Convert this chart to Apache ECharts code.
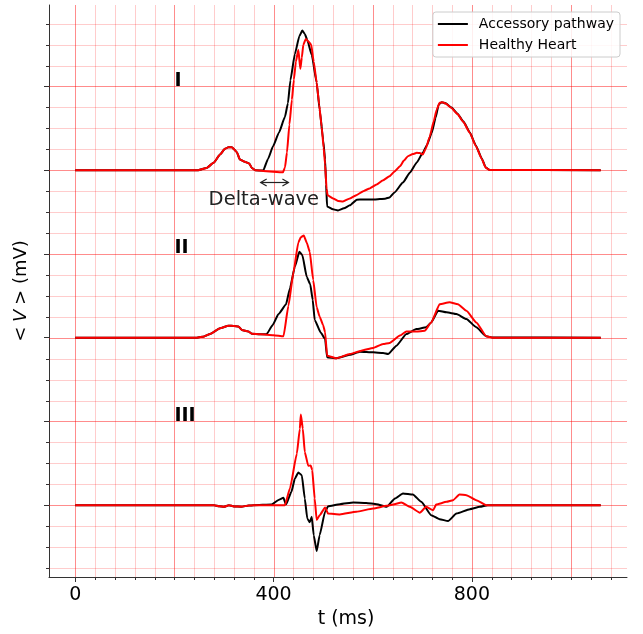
<!DOCTYPE html>
<html>
<head>
<meta charset="utf-8">
<script src="https://cdn.jsdelivr.net/npm/echarts@6/dist/echarts.min.js"></script>
<style>
html, body { margin: 0; padding: 0; background: #fff; }
#chart { width: 643px; height: 634px; }
</style>
</head>
<body>
<div id="chart"></div>
<script>
// Averaged potential per lead, [t (ms), value]; each lead is shifted by its offset.
const leadNames = ['I', 'II', 'III'];
const leadOffsets = [16, 8, 0];

const leadI_accessory = [
  [0,0],[248,0],[265,0.11],[279,0.35],[292,0.75],[302,1.02],[309,1.10],[316,1.10],[326,0.86],[332,0.51],
  [342,0.40],[351,0.32],[356,0.11],[363,0],[379,-0.02],[389,0.55],[399,1.14],[411,1.80],[423,2.55],
  [429,3.20],[434,4.30],[443,5.55],[452,6.40],[458,6.67],[463,6.51],[468,6.22],[477,5.51],[487,4.18],
  [493,2.89],[500,1.46],[504,0.51],[506,-0.68],[508,-1.73],[520,-1.87],[530,-1.92],[542,-1.82],
  [554,-1.68],[568,-1.41],[580,-1.40],[604,-1.40],[625,-1.36],[634,-1.30],[644,-1.06],[661,-0.59],
  [675,-0.12],[689,0.37],[701,0.83],[709,1.18],[719,1.78],[727,2.51],[733,3.13],[739,3.25],[747,3.20],
  [759,2.99],[771,2.70],[783,2.32],[796,1.80],[808,1.18],[820,0.56],[828,0.13],[836,0.01],[1060,0]
];
const leadI_healthy = [
  [0,0],[248,0],[265,0.11],[279,0.35],[292,0.75],[302,1.02],[309,1.10],[316,1.10],[326,0.86],[332,0.51],
  [342,0.40],[351,0.32],[356,0.11],[363,0],[379,-0.04],[419,-0.10],[423,0.13],[427,0.84],[432,2.18],
  [437,3.37],[441,4.32],[445,5.18],[450,5.75],[454,4.84],[457,5.37],[460,5.99],[465,6.27],[471,6.13],
  [476,5.99],[481,5.18],[487,4.18],[492,3.13],[497,2.08],[501,1.08],[504,0.27],[507,-0.90],[509,-1.20],
  [520,-1.35],[530,-1.47],[540,-1.49],[554,-1.35],[568,-1.18],[581,-1.00],[594,-0.87],[608,-0.68],
  [620,-0.49],[634,-0.29],[644,-0.06],[655,0.19],[663,0.46],[671,0.67],[681,0.77],[689,0.83],[695,0.82],
  [701,0.75],[707,1.03],[715,1.60],[723,2.32],[729,2.89],[735,3.22],[741,3.25],[747,3.18],[759,2.97],
  [771,2.68],[783,2.30],[796,1.78],[808,1.16],[820,0.54],[828,0.12],[836,0.01],[1060,0]
];
const leadII_accessory = [
  [0,0],[245,0],[260,0.06],[272,0.18],[292,0.45],[309,0.57],[320,0.56],[329,0.54],[336,0.37],[349,0.30],
  [356,0.19],[373,0.16],[386,0.17],[398,0.60],[410,1.13],[425,1.58],[433,2.35],[443,3.40],[452,4.10],
  [458,3.95],[467,2.90],[474,2.55],[479,1.80],[483,0.85],[495,0.25],[504,-0.06],[508,-0.93],[527,-0.98],
  [554,-0.82],[574,-0.67],[601,-0.70],[621,-0.73],[631,-0.78],[648,-0.38],[668,0.18],[688,0.41],
  [708,0.50],[718,0.73],[732,1.29],[749,1.21],[769,1.13],[789,0.89],[809,0.50],[829,0.07],[842,0.01],[1060,0]
];
const leadII_healthy = [
  [0,0],[245,0],[260,0.06],[272,0.18],[292,0.45],[309,0.57],[320,0.56],[329,0.54],[336,0.37],[349,0.30],
  [356,0.19],[373,0.16],[400,0.12],[420,0.07],[430,1.52],[440,3.11],[450,4.55],[455,4.80],[461,4.88],
  [467,4.54],[473,4.10],[480,2.75],[487,1.45],[493,1.00],[500,0.60],[504,0.26],[508,-0.86],[527,-0.98],
  [554,-0.78],[577,-0.62],[601,-0.49],[621,-0.30],[634,-0.25],[655,0.10],[668,0.30],[688,0.29],
  [705,0.33],[718,0.73],[735,1.60],[755,1.69],[772,1.60],[789,1.29],[809,0.73],[829,0.07],[842,0],[1060,0]
];
const leadIII_accessory = [
  [0,0],[280,0],[290,-0.05],[300,-0.08],[310,0],[320,-0.06],[335,-0.07],[350,-0.02],[360,0],[396,0.03],
  [410,0.25],[420,0.35],[425,0.03],[436,0.64],[443,1.27],[450,1.56],[457,1.43],[463,0.32],[468,-0.63],
  [473,-0.82],[477,-0.55],[481,-1.43],[487,-2.19],[493,-1.43],[504,-0.31],[510,-0.05],[534,0.05],
  [561,0.13],[587,0.11],[608,0.05],[628,-0.08],[645,0.32],[661,0.56],[681,0.51],[698,0.16],[718,-0.48],
  [735,-0.67],[752,-0.76],[769,-0.40],[796,-0.19],[816,-0.08],[832,0],[1060,0]
];
const leadIII_healthy = [
  [0,0],[280,0],[290,-0.05],[300,-0.08],[310,0],[320,-0.06],[335,-0.07],[350,-0.02],[360,0],[423,0],
  [433,0.80],[447,2.46],[453,3.65],[455,4.33],[459,3.65],[463,2.54],[470,1.88],[475,1.90],[478,1.67],
  [483,0.32],[487,-0.71],[493,-0.48],[504,-0.11],[510,-0.40],[534,-0.44],[567,-0.31],[601,-0.16],
  [628,-0.03],[641,0.03],[658,0.13],[675,-0.08],[695,-0.36],[708,-0.08],[722,-0.24],[728,0.03],
  [749,0.16],[762,0.24],[775,0.51],[789,0.48],[809,0.24],[829,0],[1060,0]
];

// Axis ticks and ECG paper grid
const xTickLabels = [0, 400, 800];
const xMinorTicks = [40,80,120,160,200,240,280,320,360,440,480,520,560,600,640,680,720,760,840,880,920,960,1000,1040,1080];
const yMajorTicks = [0, 4, 8, 12, 16, 20];
const yMinorTicks = [-3,-2,-1,1,2,3,5,6,7,9,10,11,13,14,15,17,18,19,21,22,23];
const xGridMajor = [0, 200, 400, 600, 800, 1000];
const yGridMajor = [0, 4, 8, 12, 16, 20];

// Annotations
const leadLabelTime = 200;
const leadLabelRise = 4;
const deltaLabel = 'Delta-wave';
const deltaLabelAt = [269, 14.32];
const deltaArrowFrom = [374, 15.43];
const deltaArrowTo = [430, 15.43];

const X_MIN = -53, X_MAX = 1113, Y_MIN = -3.43, Y_MAX = 23.89;
const FONT = 'DejaVu Sans';
const MAJOR_GRID = 'rgba(255,0,0,0.45)';
const MINOR_GRID = 'rgba(255,0,0,0.2)';

const accessoryLeads = [leadI_accessory, leadII_accessory, leadIII_accessory];
const healthyLeads = [leadI_healthy, leadII_healthy, leadIII_healthy];

function shifted(points, off) {
  return points.map(p => [p[0], p[1] + off]);
}

// Grid lines: [value, horizontal?, major?]
const gridData = [];
for (let v = 0; v <= 1080; v += 40) gridData.push([v, 0, xGridMajor.includes(v) ? 1 : 0]);
for (let v = -3; v <= 23; v += 1) gridData.push([v, 1, yGridMajor.includes(v) ? 1 : 0]);

// Minor tick marks: [value, onYAxis?]
const minorTickData = xMinorTicks.map(v => [v, 0]).concat(yMinorTicks.map(v => [v, 1]));

function crisp(v) { return Math.round(v) + 0.5; }

const series = [];

series.push({
  type: 'custom',
  silent: true,
  z: 1,
  data: gridData,
  renderItem(params, api) {
    const cs = params.coordSys;
    const v = api.value(0);
    const horiz = api.value(1) === 1;
    const style = { stroke: api.value(2) === 1 ? MAJOR_GRID : MINOR_GRID, lineWidth: 1 };
    if (horiz) {
      const y = crisp(api.coord([0, v])[1]);
      return { type: 'line', shape: { x1: cs.x, y1: y, x2: cs.x + cs.width, y2: y }, style };
    }
    const x = crisp(api.coord([v, 0])[0]);
    return { type: 'line', shape: { x1: x, y1: cs.y, x2: x, y2: cs.y + cs.height }, style };
  }
});

series.push({
  type: 'custom',
  silent: true,
  z: 5,
  clip: false,
  data: minorTickData,
  renderItem(params, api) {
    const cs = params.coordSys;
    const v = api.value(0);
    const style = { stroke: '#333', lineWidth: 1 };
    if (api.value(1) === 1) {
      const y = crisp(api.coord([0, v])[1]);
      return { type: 'line', shape: { x1: cs.x - 3, y1: y, x2: cs.x, y2: y }, style };
    }
    const x = crisp(api.coord([v, 0])[0]);
    const yb = cs.y + cs.height;
    return { type: 'line', shape: { x1: x, y1: yb, x2: x, y2: yb + 3 }, style };
  }
});

for (let i = 0; i < 3; i++) {
  series.push({
    type: 'line', name: 'Accessory pathway', z: 3,
    data: shifted(accessoryLeads[i], leadOffsets[i]),
    showSymbol: false, symbol: 'none', smooth: 0.15, smoothMonotone: 'x',
    lineStyle: { color: '#000', width: 2 }, itemStyle: { color: '#000' }
  });
}
for (let i = 0; i < 3; i++) {
  series.push({
    type: 'line', name: 'Healthy Heart', z: 4,
    data: shifted(healthyLeads[i], leadOffsets[i]),
    showSymbol: false, symbol: 'none', smooth: 0.15, smoothMonotone: 'x',
    lineStyle: { color: '#ff0000', width: 2 }, itemStyle: { color: '#ff0000' }
  });
}

// Lead names, placed on their baseline
series.push({
  type: 'custom', silent: true, z: 6, clip: false,
  data: leadNames.map((n, i) => [leadLabelTime, leadOffsets[i] + leadLabelRise]),
  renderItem(params, api) {
    const p = api.coord([api.value(0), api.value(1)]);
    const size = 19;
    return {
      type: 'text',
      style: {
        text: leadNames[params.dataIndex], x: p[0], y: p[1] - 0.3 * size,
        font: 'bold ' + size + 'px "' + FONT + '"', fill: '#000',
        textAlign: 'left', textVerticalAlign: 'middle'
      }
    };
  }
});

// Delta-wave note with its double arrow
series.push({
  type: 'custom', silent: true, z: 6, clip: false,
  data: [[deltaArrowFrom[0], deltaArrowFrom[1]]],
  renderItem(params, api) {
    const a = api.coord(deltaArrowFrom);
    const b = api.coord(deltaArrowTo);
    const t = api.coord(deltaLabelAt);
    const y = crisp(a[1]);
    const hl = 6, hw = 3.5;
    const stroke = { stroke: '#222', lineWidth: 1.2, fill: null };
    const size = 19.5;
    return {
      type: 'group',
      children: [
        { type: 'line', shape: { x1: a[0], y1: y, x2: b[0], y2: y }, style: stroke },
        { type: 'polyline', shape: { points: [[a[0] + hl, y - hw], [a[0], y], [a[0] + hl, y + hw]] }, style: stroke },
        { type: 'polyline', shape: { points: [[b[0] - hl, y - hw], [b[0], y], [b[0] - hl, y + hw]] }, style: stroke },
        {
          type: 'text',
          style: {
            text: deltaLabel, x: t[0], y: t[1] - 0.3 * size,
            font: size + 'px "' + FONT + '"', fill: '#222',
            textAlign: 'left', textVerticalAlign: 'middle'
          }
        }
      ]
    };
  }
});

const chart = echarts.init(document.getElementById('chart'), null, { renderer: 'canvas' });
chart.setOption({
  animation: false,
  backgroundColor: '#fff',
  textStyle: { fontFamily: FONT },
  grid: { left: 49, right: 16, top: 5, bottom: 55, containLabel: false },
  legend: {
    orient: 'vertical',
    right: 23, top: 12,
    data: ['Accessory pathway', 'Healthy Heart'],
    icon: 'rect', itemWidth: 30, itemHeight: 2, itemGap: 7,
    padding: [5, 6, 5, 5],
    backgroundColor: 'rgba(255,255,255,0.85)',
    borderColor: '#cccccc', borderWidth: 1, borderRadius: 3,
    textStyle: { fontFamily: FONT, fontSize: 14, color: '#000', padding: [0, 0, 0, 6] },
    selectedMode: false
  },
  xAxis: {
    type: 'value', min: X_MIN, max: X_MAX,
    name: 't (ms)', nameLocation: 'middle', nameGap: 33,
    nameTextStyle: { fontFamily: FONT, fontSize: 19, color: '#000', padding: [0, 0, 0, 16] },
    axisLine: { show: true, onZero: false, lineStyle: { color: '#333', width: 1 } },
    axisTick: { show: true, customValues: xTickLabels, length: 5, lineStyle: { color: '#333', width: 1 } },
    axisLabel: { show: true, customValues: xTickLabels, margin: 9, fontFamily: FONT, fontSize: 19, color: '#000' },
    splitLine: { show: false }
  },
  yAxis: {
    type: 'value', min: Y_MIN, max: Y_MAX,
    name: '{n|<}{s| }{i|V}{s| }{n|> (mV)}', nameLocation: 'middle', nameGap: 19, nameRotate: 90,
    nameTextStyle: {
      fontFamily: FONT, fontSize: 18, color: '#000',
      rich: {
        n: { fontFamily: FONT, fontSize: 18, color: '#000' },
        s: { fontFamily: FONT, fontSize: 15, color: '#000' },
        i: { fontFamily: FONT, fontSize: 18, fontStyle: 'italic', color: '#000' }
      }
    },
    axisLine: { show: true, onZero: false, lineStyle: { color: '#333', width: 1 } },
    axisTick: { show: true, customValues: yMajorTicks, length: 5, lineStyle: { color: '#333', width: 1 } },
    axisLabel: { show: false },
    splitLine: { show: false }
  },
  series
});
</script>
</body>
</html>
